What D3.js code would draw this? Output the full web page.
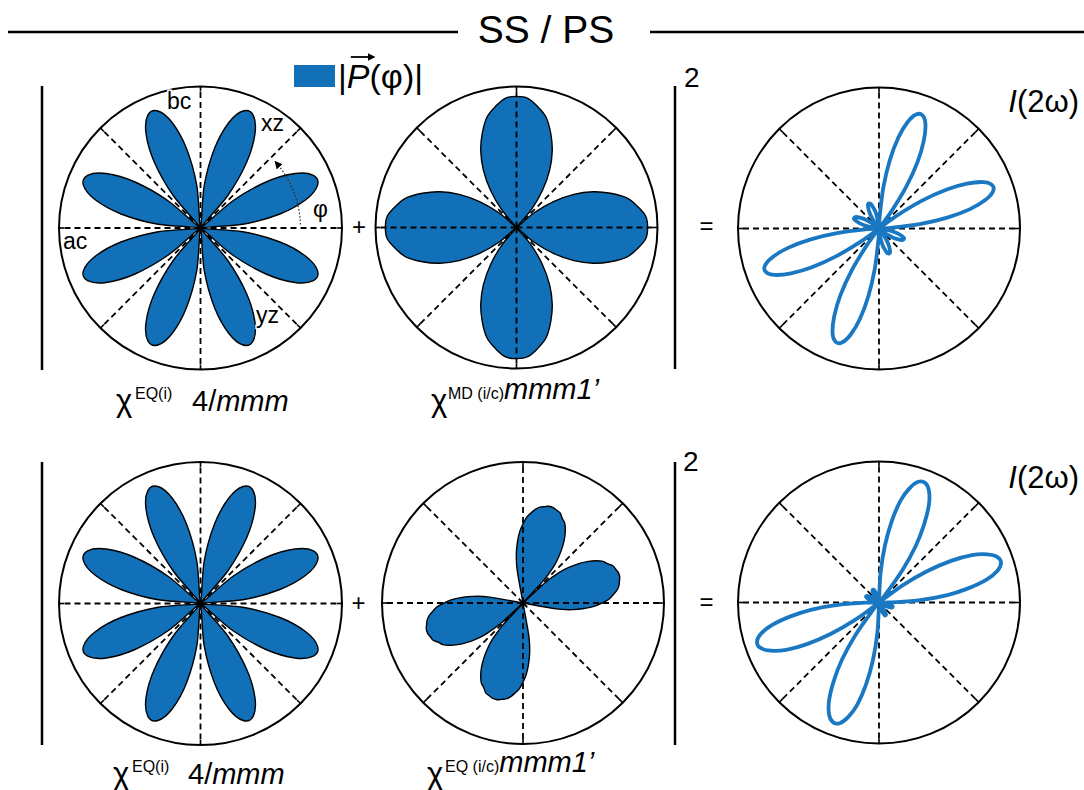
<!DOCTYPE html>
<html><head><meta charset="utf-8">
<script src="https://cdn.jsdelivr.net/npm/d3@7"></script>
<style>
body{margin:0;background:#fff}
svg{display:block}
text{font-family:"Liberation Sans",Arial,sans-serif;fill:#000}
</style>
</head><body>
<svg id="c" width="1084" height="790"></svg>
<script>
// ---------------- data ----------------
const thetaTicks = [0, 45, 90, 135, 180, 225, 270, 315];
const angles5 = d3.range(0, 360, 5);     // degrees
const angles25 = d3.range(0, 360, 2.5);  // degrees
const angles3 = d3.range(0, 360, 3);     // degrees

// |P(φ)|, χEQ(i) 4/mmm  (φ = 0,5,...,355)
const pEQi = [
  0,.30,.57,.77,.88,.88,.77,.57,.30,
  0,.30,.57,.77,.88,.88,.77,.57,.30,
  0,.30,.57,.77,.88,.88,.77,.57,.30,
  0,.30,.57,.77,.88,.88,.77,.57,.30,
  0,.30,.57,.77,.88,.88,.77,.57,.30,
  0,.30,.57,.77,.88,.88,.77,.57,.30,
  0,.30,.57,.77,.88,.88,.77,.57,.30,
  0,.30,.57,.77,.88,.88,.77,.57,.30
];
// |P(φ)|, χMD(i/c) mmm1'  (φ = 0,5,...,355)
const pMDic = [
  .93,.92,.87,.81,.71,.60,.47,.32,.16,0,.16,.32,.47,.60,.71,.81,.87,.92,
  .93,.92,.87,.81,.71,.60,.47,.32,.16,0,.16,.32,.47,.60,.71,.81,.87,.92,
  .93,.92,.87,.81,.71,.60,.47,.32,.16,0,.16,.32,.47,.60,.71,.81,.87,.92,
  .93,.92,.87,.81,.71,.60,.47,.32,.16,0,.16,.32,.47,.60,.71,.81,.87,.92
];
// |P(φ)|, χEQ(i/c) mmm1'  (φ = 0,2.5,...,357.5)
const pEQic = [
  .56,.61,.64,.67,.69,.70,.71,.71,.70,.69,.66,.64,.60,.55,.49,.42,.34,.21,0,
  .21,.34,.42,.49,.55,.60,.64,.66,.69,.70,.71,.71,.70,.69,.67,.64,.61,.56,.51,.44,.36,.24,
  0,0,0,0,0,0,0,0,0,0,0,0,0,0,0,0,0,0,0,0,0,0,0,0,0,0,0,
  .24,.36,.44,.51,
  .56,.61,.64,.67,.69,.70,.71,.71,.70,.69,.66,.64,.60,.55,.49,.42,.34,.21,0,
  .21,.34,.42,.49,.55,.60,.64,.66,.69,.70,.71,.71,.70,.69,.67,.64,.61,.56,.51,.44,.36,.24,
  0,0,0,0,0,0,0,0,0,0,0,0,0,0,0,0,0,0,0,0,0,0,0,0,0,0,0,
  .24,.36,.44,.51
];
// I(2ω), top row  (φ = 0,3,...,357)
const iTop = [
  0,.08,.29,.49,.66,.78,.85,.86,.81,.70,.55,.36,.15,
  0,0,0,0,0,
  .15,.36,.55,.70,.81,.86,.85,.78,.66,.49,.29,.08,
  0,0,
  .02,.07,.12,.15,.18,.19,.19,.17,.14,.10,.05,
  0,0,0,0,
  .02,.07,.12,.15,.18,.19,.19,.17,.14,.10,.05,
  0,0,
  0,.08,.29,.49,.66,.78,.85,.86,.81,.70,.55,.36,.15,
  0,0,0,0,0,
  .15,.36,.55,.70,.81,.86,.85,.78,.66,.49,.29,.08,
  0,0,
  .02,.07,.12,.15,.18,.19,.19,.17,.14,.10,.05,
  0,0,0,0,
  .02,.07,.12,.15,.18,.19,.19,.17,.14,.10,.05,
  0,0
];
// I(2ω), bottom row  (φ = 0,3,...,357)
const iBottom = [
  .07,.28,.48,.64,.78,.87,.91,.90,.84,.74,.59,.41,.21,0,0,0,0,
  .07,.28,.48,.64,.78,.87,.91,.90,.84,.74,.59,.41,.21,0,0,0,0,
  .02,.05,.07,.09,.10,.10,.09,.07,.04,.01,0,0,0,
  .02,.05,.07,.09,.10,.10,.09,.07,.04,.01,0,0,0,
  .07,.28,.48,.64,.78,.87,.91,.90,.84,.74,.59,.41,.21,0,0,0,0,
  .07,.28,.48,.64,.78,.87,.91,.90,.84,.74,.59,.41,.21,0,0,0,0,0,
  .03,.06,.08,.10,.10,.10,.08,.06,.03,0,0,0,0,0,0,
  .03,.06,.08,.10,.10,.10,.08,.06,.03,0
];

const titleText = "SS / PS";
const petalLabels = ["bc", "xz", "ac", "yz"];
const legendText = ["|", "P", "(φ)|"];

// ---------------- drawing ----------------
const svg = d3.select("#c");
const FILL = "#1170b8", LINE = "#1a78c3";

svg.append("line").attr("x1", 8).attr("x2", 458).attr("y1", 32).attr("y2", 32)
  .attr("stroke", "#000").attr("stroke-width", 2.5);
svg.append("line").attr("x1", 650).attr("x2", 1084).attr("y1", 32).attr("y2", 32)
  .attr("stroke", "#000").attr("stroke-width", 2.5);
svg.append("text").attr("x", 546).attr("y", 43).attr("text-anchor", "middle")
  .attr("font-size", 39).text(titleText);

const panels = [
  {cx: 200.5, cy: 228,   R: 141.5, vals: pEQi,    ang: angles5,  kind: "fill"},
  {cx: 516.5, cy: 227.5, R: 141,   vals: pMDic,   ang: angles5,  kind: "fill"},
  {cx: 879,   cy: 228.5, R: 141,   vals: iTop,    ang: angles3,  kind: "line"},
  {cx: 200.5, cy: 603.5, R: 141.5, vals: pEQi,    ang: angles5,  kind: "fill"},
  {cx: 523,   cy: 603,   R: 141,   vals: pEQic,   ang: angles25, kind: "fill"},
  {cx: 879,   cy: 602.5, R: 141,   vals: iBottom, ang: angles3,  kind: "line"}
];

const aScale = d3.scaleLinear().domain([0, 360]).range([Math.PI / 2, Math.PI / 2 - 2 * Math.PI]);

function drawGrid(g, rs) {
  const R = rs(1);
  g.selectAll("line.spoke").data(thetaTicks).join("line").attr("class", "spoke")
    .attr("x1", 0).attr("y1", 0)
    .attr("x2", d => R * Math.sin(aScale(d))).attr("y2", d => -R * Math.cos(aScale(d)))
    .attr("stroke", "#000").attr("stroke-width", 1.8).attr("stroke-dasharray", "6,4");
  g.selectAll("line.tick").data(thetaTicks).join("line").attr("class", "tick")
    .attr("x1", d => (R - 5) * Math.sin(aScale(d))).attr("y1", d => -(R - 5) * Math.cos(aScale(d)))
    .attr("x2", d => R * Math.sin(aScale(d))).attr("y2", d => -R * Math.cos(aScale(d)))
    .attr("stroke", "#000").attr("stroke-width", 1.6);
  g.append("circle").attr("r", R).attr("fill", "none").attr("stroke", "#000").attr("stroke-width", 2);
}

panels.forEach(p => {
  const g = svg.append("g").attr("transform", `translate(${p.cx},${p.cy})`);
  const rs = d3.scaleLinear().domain([0, 1]).range([0, p.R]);
  const line = d3.lineRadial()
    .angle((d, i) => aScale(p.ang[i]))
    .radius(d => rs(d))
    .curve(d3.curveCardinalClosed.tension(0));
  if (p.kind === "fill") {
    g.append("path").attr("d", line(p.vals)).attr("fill", FILL)
      .attr("stroke", "#000").attr("stroke-width", 1.4).attr("stroke-linejoin", "round");
    drawGrid(g.append("g"), rs);
  } else {
    drawGrid(g.append("g"), rs);
    g.append("path").attr("d", line(p.vals)).attr("fill", "none")
      .attr("stroke", LINE).attr("stroke-width", 3.8).attr("stroke-linejoin", "round");
  }
});

// labels in the first panel
const lab = [
  {t: petalLabels[0], x: 167, y: 109},
  {t: petalLabels[1], x: 261, y: 131},
  {t: petalLabels[2], x: 63,  y: 249},
  {t: petalLabels[3], x: 256, y: 323}
];
svg.selectAll("text.pl").data(lab).join("text").attr("class", "pl")
  .attr("x", d => d.x).attr("y", d => d.y).attr("font-size", 23)
  .attr("stroke", "#fff").attr("stroke-width", 3).attr("paint-order", "stroke")
  .text(d => d.t);

// φ arc with arrow
svg.append("defs").append("marker").attr("id", "ah").attr("viewBox", "0 0 10 10")
  .attr("refX", 5).attr("refY", 5).attr("markerWidth", 8).attr("markerHeight", 8)
  .attr("orient", "auto").attr("markerUnits", "userSpaceOnUse")
  .append("path").attr("d", "M0,0L10,5L0,10z").attr("fill", "#000");
{
  const pth = d3.path();
  const a0 = -2 * Math.PI / 180, a1 = -40 * Math.PI / 180;
  pth.arc(200.5, 228, 100, a0, a1, true);
  svg.append("path").attr("d", pth.toString()).attr("fill", "none")
    .attr("stroke", "#333").attr("stroke-width", 1.3).attr("stroke-dasharray", "1.5,2")
    .attr("marker-end", "url(#ah)");
  svg.append("text").attr("x", 313).attr("y", 217).attr("font-size", 23).text("φ");
}

// legend
svg.append("rect").attr("x", 294).attr("y", 65).attr("width", 41).attr("height", 22).attr("fill", FILL);
const lt = svg.append("text").attr("x", 338).attr("y", 88).attr("font-size", 34);
lt.append("tspan").text(legendText[0]);
lt.append("tspan").attr("font-style", "italic").text(legendText[1]);
lt.append("tspan").text(legendText[2]);
{
  const n = lt.node();
  const s = n.getStartPositionOfChar(1), e = n.getEndPositionOfChar(1);
  const y0 = 57;
  svg.append("line").attr("x1", s.x + 4).attr("x2", e.x + 2).attr("y1", y0).attr("y2", y0)
    .attr("stroke", "#000").attr("stroke-width", 1.8).attr("marker-end", "url(#ah)");
}

// operators and brackets
function opText(t, x, y) {
  svg.append("text").attr("x", x).attr("y", y).attr("text-anchor", "middle").attr("font-size", 24).text(t);
}
opText("+", 359, 235); opText("=", 706.5, 234);
opText("+", 358.5, 611); opText("=", 706.5, 610);

[[42, 86, 370], [675, 86, 369], [42, 462, 745], [675, 462, 745]].forEach(b => {
  svg.append("line").attr("x1", b[0]).attr("x2", b[0]).attr("y1", b[1]).attr("y2", b[2])
    .attr("stroke", "#000").attr("stroke-width", 2.5);
});
svg.append("text").attr("x", 684).attr("y", 87).attr("font-size", 28).text("2");
svg.append("text").attr("x", 683).attr("y", 471).attr("font-size", 28).text("2");

// I(2ω) labels
[112, 488].forEach(y => {
  const t = svg.append("text").attr("x", 1079).attr("y", y).attr("text-anchor", "end").attr("font-size", 31);
  t.append("tspan").attr("font-style", "italic").text("I");
  t.append("tspan").text("(2ω)");
});

// chi labels
function chiLabel(x, y, sup, supX, rest, restX, restItalicFrom) {
  const t = svg.append("text").attr("y", y).attr("font-size", 29);
  t.append("tspan").attr("x", x).attr("font-size", 31).text("χ");
  t.append("tspan").attr("x", supX).attr("dy", -12).attr("font-size", 16).text(sup);
  t.append("tspan").attr("x", restX).attr("dy", 12).text(rest.slice(0, restItalicFrom));
  t.append("tspan").attr("font-style", "italic").text(rest.slice(restItalicFrom));
}
chiLabel(116, 411, "EQ(i)", 135, "4/mmm", 192, 2);
chiLabel(431, 411, "MD (i/c)", 448, "mmm1’", 513, 0);
chiLabel(113, 784, "EQ(i)", 132, "4/mmm", 188, 2);
chiLabel(427, 784, "EQ (i/c)", 445, "mmm1’", 510, 0);
</script>
</body></html>
